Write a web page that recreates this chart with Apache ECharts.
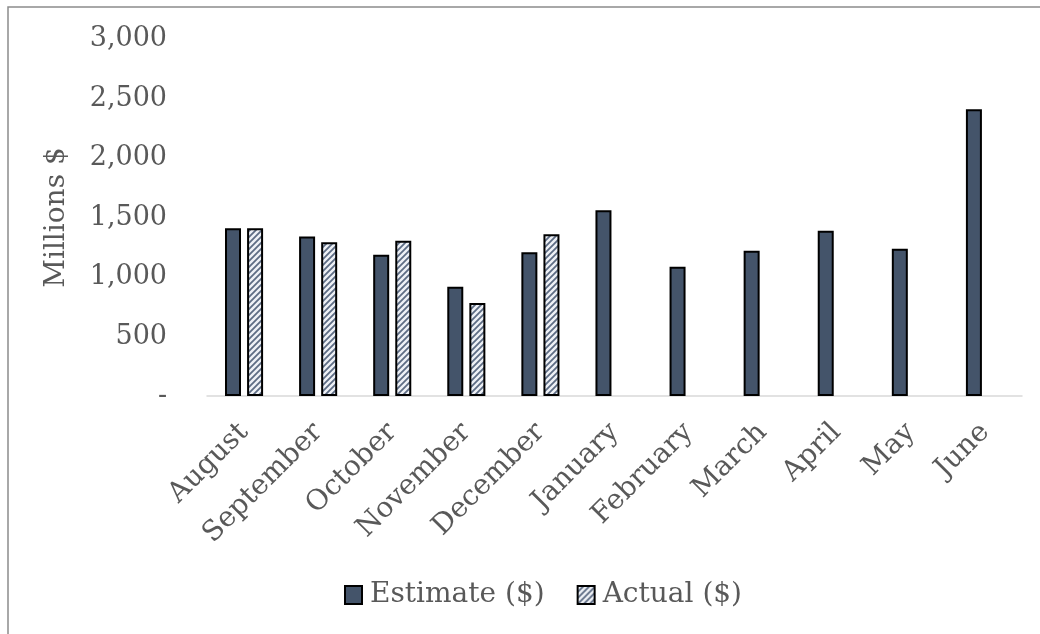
<!DOCTYPE html>
<html lang="en" style="height: 100%">

<head>
  <meta charset="utf-8">
  <style>
    html,
    body {
      margin: 0;
      padding: 0;
      width: 100%;
      height: 100%;
      overflow: hidden;
      background: #fff;
    }
  </style>
</head>

<body>
  <div id="container" style="height: 100%;width: 100%;"></div>

  <script type="text/javascript" src="https://cdn.jsdelivr.net/npm/echarts@6/dist/echarts.min.js"></script>
  <script type="text/javascript">

    // categories
    const months = [
      "August", "September", "October", "November", "December",
      "January", "February", "March", "April", "May", "June"
    ]

    // series values (millions $)
    const estimateData = [1410, 1340, 1187, 918, 1208, 1560, 1087, 1221, 1389, 1238, 2409]
    const actualData = [1410, 1292, 1305, 782, 1359, null, null, null, null, null, null]

    // y tick labels
    const yTickLabels = ["-", "500", "1,000", "1,500", "2,000", "2,500", "3,000"]

    const fontFamily = "DejaVu Serif";
    const textColor = "#595959";

    // hatch pattern for the actual bars
    function makeHatch() {
      const c = document.createElement('canvas');
      c.width = 6;
      c.height = 6;
      const ctx = c.getContext('2d');
      ctx.fillStyle = '#eef1f6';
      ctx.fillRect(0, 0, 6, 6);
      ctx.strokeStyle = '#5d6c84';
      ctx.lineWidth = 1.8;
      ctx.beginPath();
      ctx.moveTo(-1, 7); ctx.lineTo(7, -1);
      ctx.moveTo(-4, 4); ctx.lineTo(4, -4);
      ctx.moveTo(2, 10); ctx.lineTo(10, 2);
      ctx.stroke();
      return c;
    }

    var dom = document.getElementById('container');
    var myChart = echarts.init(dom, null, {
      renderer: 'canvas'
    });

    var option = {
      animation: false,
      textStyle: { fontFamily: fontFamily },
      graphic: [
        {
          type: 'rect',
          shape: { x: 8, y: 7, width: 1200, height: 800 },
          style: { fill: 'none', stroke: '#8c8c8c', lineWidth: 1.5 },
          silent: true
        }
      ],
      legend: {
        left: 339,
        top: 576,
        icon: 'rect',
        itemWidth: 17,
        itemHeight: 18,
        itemGap: 32,
        textStyle: { fontFamily: fontFamily, fontSize: 28, color: textColor, padding: [0, 0, 0, 3] },
        data: ["Estimate ($)", "Actual ($)"]
      },
      grid: {
        top: 39,
        left: 207,
        right: 18,
        bottom: 238,
        containLabel: false
      },
      xAxis: {
        type: "category",
        data: months,
        axisLine: { show: true, lineStyle: { color: "#d9d9d9", width: 1.5 } },
        axisTick: { show: false },
        axisLabel: {
          rotate: 45,
          margin: 32,
          interval: 0,
          color: textColor,
          fontFamily: fontFamily,
          fontSize: 28
        }
      },
      yAxis: {
        type: "value",
        min: 0,
        max: 3000,
        interval: 500,
        name: "Millions $",
        nameLocation: "middle",
        nameGap: 136,
        nameTextStyle: { color: textColor, fontFamily: fontFamily, fontSize: 28 },
        splitLine: { show: false },
        axisLine: { show: false },
        axisTick: { show: false },
        axisLabel: {
          margin: 40,
          color: textColor,
          fontFamily: fontFamily,
          fontSize: 27,
          formatter: (value, index) => yTickLabels[index]
        }
      },
      series: [
        {
          name: "Estimate ($)",
          type: "bar",
          data: estimateData,
          barWidth: 16,
          barGap: "38%",
          itemStyle: { color: "#44546a", borderColor: "#000", borderWidth: 2 }
        },
        {
          name: "Actual ($)",
          type: "bar",
          data: actualData,
          barWidth: 16,
          itemStyle: {
            color: { image: makeHatch(), repeat: 'repeat' },
            borderColor: "#000",
            borderWidth: 2
          }
        }
      ]
    };

    myChart.setOption(option);
    window.addEventListener('resize', myChart.resize);

  </script>
</body>

</html>
